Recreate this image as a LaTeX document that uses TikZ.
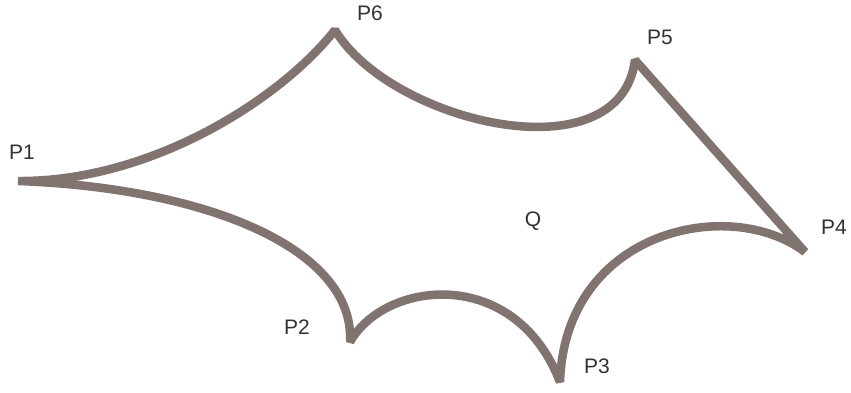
\documentclass[tikz,border=0pt]{standalone}
\usepackage{fontspec}
\setmainfont{Liberation Sans}
\usepackage{tikz}
\usetikzlibrary{positioning,calc}
\definecolor{edgebrown}{RGB}{128,115,112}
\definecolor{labelgray}{RGB}{50,50,50}

\begin{document}
\begin{tikzpicture}[
  x=1pt, y=-1pt,
  shapeline/.style={draw=edgebrown, line width=8.5pt, line join=bevel},
  ptlabel/.style={text=labelgray, font=\fontsize{21}{25}\selectfont, inner sep=0pt}
]
  \useasboundingbox (0,0) rectangle (851,392);
  % corner points
  \coordinate (p1) at (18,181);
  \coordinate (p2) at (350,342);
  \coordinate (p3) at (560,382);
  \coordinate (p4) at (805,252);
  \coordinate (p5) at (635,60);
  \coordinate (p6) at (335,30);
  % outline
  \draw[shapeline] (p1) .. controls (150,182) and (280,100) .. (p6)
    .. controls (390,122) and (620,178) .. (p5)
    -- (p4)
    .. controls (730,195) and (565,230) .. (p3)
    .. controls (515,265) and (385,280) .. (p2)
    .. controls (355,250) and (210,188) .. (p1);
  % labels
  \node[ptlabel] (l1) at (22,152) {P1};
  \node[ptlabel] (l2) at (297,327) {P2};
  \node[ptlabel] (l3) at (597,366) {P3};
  \node[ptlabel] (l4) at (834,227) {P4};
  \node[ptlabel] (l5) at (660,37) {P5};
  \node[ptlabel] (l6) at (370,13) {P6};
  \node[ptlabel] (q) at (533,221) {Q};
\end{tikzpicture}
\end{document}
